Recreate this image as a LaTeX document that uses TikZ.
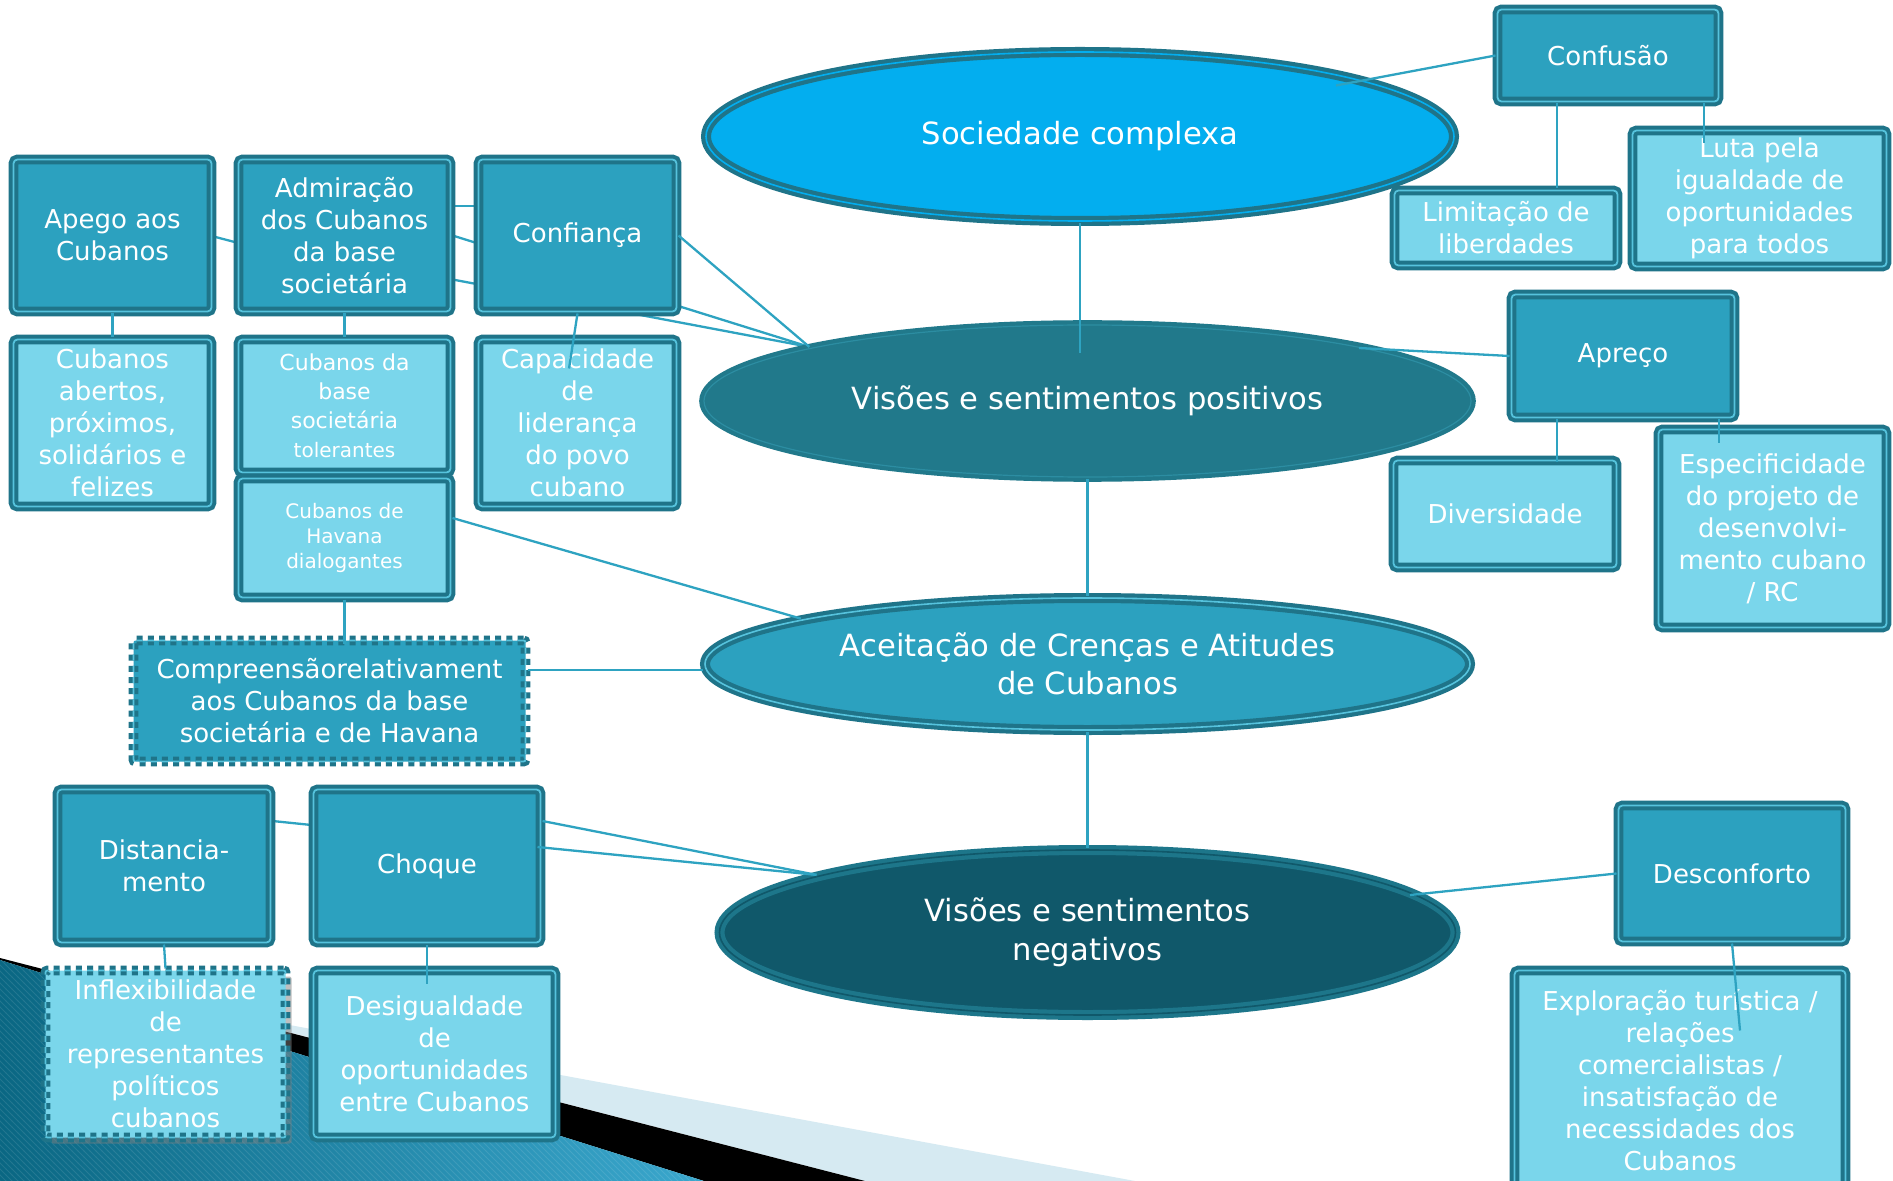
\documentclass[tikz,border=0pt]{standalone}
\usepackage{fontspec}
\setmainfont{DejaVu Sans}
\usetikzlibrary{shapes.geometric,calc,backgrounds,shadows,patterns}

\definecolor{bdark}{HTML}{1F7489}
\definecolor{bline}{HTML}{56C3DD}
\definecolor{midbox}{HTML}{2CA1BF}
\definecolor{lightbox}{HTML}{7AD6EB}
\definecolor{linkcol}{HTML}{2EA3C1}
\definecolor{socfill}{HTML}{03AEEF}
\definecolor{posfill}{HTML}{21798B}
\definecolor{posline}{HTML}{2C8DA2}
\definecolor{negfill}{HTML}{10586A}
\definecolor{negring}{HTML}{1D768A}
\definecolor{bandlight}{HTML}{D6EAF2}
\definecolor{tealdark}{HTML}{0A6783}
\definecolor{teallight}{HTML}{3AA7CD}

\begin{document}
\begin{tikzpicture}[x=0.5pt, y=-0.5pt,
    box/.style = {draw=bdark, line width=2pt, double=bline, double distance=0.9pt, rounded corners=2pt, fill=midbox, text=white, align=center, inner sep=0pt, font=\fontsize{13}{16}\selectfont},
    lbox/.style = {box, fill=lightbox},
    dbox/.style = {dash pattern=on 3pt off 2.6pt, rounded corners=1pt},
    ell/.style = {ellipse, draw=bdark, line width=2.1pt, double=bline, double distance=0.8pt, inner sep=0pt, text=white, align=center, font=\fontsize{15.3}{19.3}\selectfont},
    sz/.style 2 args = {minimum width=#1, minimum height=#2},
    link/.style = {draw=linkcol, line width=1.15pt}]
    \useasboundingbox (0,0) rectangle (1893,1181);

    \node[ell, fill=socfill, double=socfill, sz={374pt}{84.5pt}] (soc) at (1080,136.5) {Sociedade complexa};
    \node[ell, fill=posfill, draw=posfill, double=posline, double distance=0.6pt, sz={383.5pt}{76pt}] (pos) at (1087.5,401) {Visões e sentimentos positivos};
    \node[ell, fill=midbox, sz={382.5pt}{66pt}] (acc) at (1087.5,664) {Aceitação de Crenças e Atitudes\\de Cubanos};
    \node[ell, fill=negfill, draw=negring, double=negfill, sz={368pt}{82.5pt}] (neg) at (1087.5,932.5) {Visões e sentimentos\\negativos};

    \node[box, sz={110.5pt}{46pt}] (conf) at (1608,55.5) {Confusão};
    \node[lbox, sz={111.5pt}{37.5pt}] (lim) at (1506,228) {Limitação de\\liberdades};
    \node[lbox, sz={127pt}{68pt}] (luta) at (1759.5,198.5) {Luta pela\\igualdade de\\oportunidades\\para todos};
    \node[box, sz={111.5pt}{61.5pt}] (apr) at (1623,356) {Apreço};
    \node[lbox, sz={111.5pt}{53.5pt}] (div) at (1505,514) {Diversidade};
    \node[lbox, sz={114pt}{99pt}] (esp) at (1772.5,528.5) {Especificidade\\do projeto de\\desenvolvi-\\mento cubano\\/ RC};
    \node[box, sz={113.5pt}{68pt}] (desc) at (1732,873.5) {Desconforto};
    \node[lbox, sz={165.5pt}{110pt}] (expl) at (1680,1080.5) {Exploração turística /\\relações\\comercialistas /\\insatisfação de\\necessidades dos\\Cubanos};

    \node[box, sz={99pt}{76pt}] (apego) at (112.5,235.5) {Apego aos\\Cubanos};
    \node[box, sz={106pt}{76pt}] (adm) at (344.5,235.5) {Admiração\\dos Cubanos\\da base\\societária};
    \node[box, sz={99pt}{76pt}] (confi) at (577.5,235.5) {Confiança};
    \node[lbox, sz={99pt}{83.5pt}] (abert) at (112.5,423) {Cubanos\\abertos,\\próximos,\\solidários e\\felizes};
    \node[lbox, sz={106pt}{66.5pt}, font=\fontsize{11}{14.5}\selectfont] (toler) at (344.5,406) {Cubanos da\\base\\societária\\{\fontsize{10}{12}\selectfont tolerantes}};
    \node[lbox, sz={106pt}{59.5pt}, font=\fontsize{10}{12.5}\selectfont] (hav) at (344.5,538) {Cubanos de\\Havana\\dialogantes};
    \node[lbox, sz={99pt}{83.5pt}] (capac) at (577.5,423) {Capacidade\\de\\liderança\\do povo\\cubano};
    \node[box, dbox, sz={196pt}{60.5pt}] (compr) at (329.5,701) {Compreensãorelativament\\aos Cubanos da base\\societária e de Havana};
    \node[box, sz={106.5pt}{76.5pt}] (dist) at (164,866) {Distancia-\\mento};
    \node[box, sz={113.5pt}{76.5pt}] (choq) at (427,866) {Choque};
    \node[lbox, dbox, drop shadow={shadow xshift=3pt, shadow yshift=-3pt, opacity=0.5}, sz={120pt}{83.5pt}] (infl) at (165.5,1054) {Inflexibilidade\\de\\representantes\\políticos\\cubanos};
    \node[lbox, sz={121pt}{83.5pt}] (desig) at (434.5,1054) {Desigualdade\\de\\oportunidades\\entre Cubanos};

    \begin{pgfonlayer}{background}
        \fill[white] (0,0) rectangle (1893,1181);
        \fill[bandlight] (192,1007) -- (1135,1181) -- (865,1181) -- cycle;
        \fill[black] (0,958) -- (865,1181) -- (704,1181) -- (0,960) -- cycle;
        \shade[left color=tealdark, right color=teallight] (0,960) -- (704,1181) -- (0,1181) -- cycle;
        \fill[pattern=north west lines, pattern color=white, opacity=0.1] (0,960) -- (704,1181) -- (0,1181) -- cycle;

        \draw[link] ($(apego.east)+(0,1)$) -- ($(adm.west)+(0,7)$);
        \draw[link] ($(adm.east)+(0,-29.5)$) -- ($(confi.west)+(0,-29.5)$);
        \draw[link] (adm.east) -- (pos.169);
        \draw[link] ($(adm.east)+(0,44)$) -- (pos.169);
        \draw[link] ($(dist.east)+(0,-45)$) -- ($(choq.west)+(0,-41)$);
    \end{pgfonlayer}

    \draw[link] ($(soc.center)+(256,-51)$) -- (conf.west);
    \draw[link] ($(conf.south)+(-51,0)$) -- ($(lim.north)+(51,0)$);
    \draw[link] ($(conf.south)+(96,0)$) -- ($(luta.north)+(-55.5,15)$);
    \draw[link] (soc.south) -- ($(pos.north)+(-7.5,30)$);
    \draw[link] ($(pos.center)+(271.5,-53)$) -- (apr.west);
    \draw[link] ($(apr.south)+(-66,0)$) -- ($(div.north)+(52,4)$);
    \draw[link] ($(apr.south)+(96,0)$) -- ($(esp.north)+(-53.5,16)$);
    \draw[link] (pos.south) -- (acc.north);
    \draw[link] (acc.south) -- (neg.north);
    \draw[link] ($(neg.center)+(322.5,-37.5)$) -- (desc.west);
    \draw[link] (desc.south) -- ($(expl.center)+(60,-50)$);

    \draw[link] (confi.east) -- (pos.169);
    \draw[link] (apego.south) -- (abert.north);
    \draw[link] (adm.south) -- (toler.north);
    \draw[link] (confi.south) -- ($(capac.north)+(-8.5,31)$);
    \draw[link] ($(hav.east)+(0,-20)$) -- (acc.171);
    \draw[link] (hav.south) -- ($(compr.north)+(15,5)$);
    \draw[link] ($(compr.east)+(0,-31)$) -- ($(acc.west)+(0,6)$);
    \draw[link] ($(choq.east)+(0,-45)$) -- (neg.168);
    \draw[link] ($(choq.east)+(-5,-19)$) -- (neg.168);
    \draw[link] (dist.south) -- (infl.north);
    \draw[link] (choq.south) -- ($(desig.north)+(-7.5,15)$);
\end{tikzpicture}
\end{document}
